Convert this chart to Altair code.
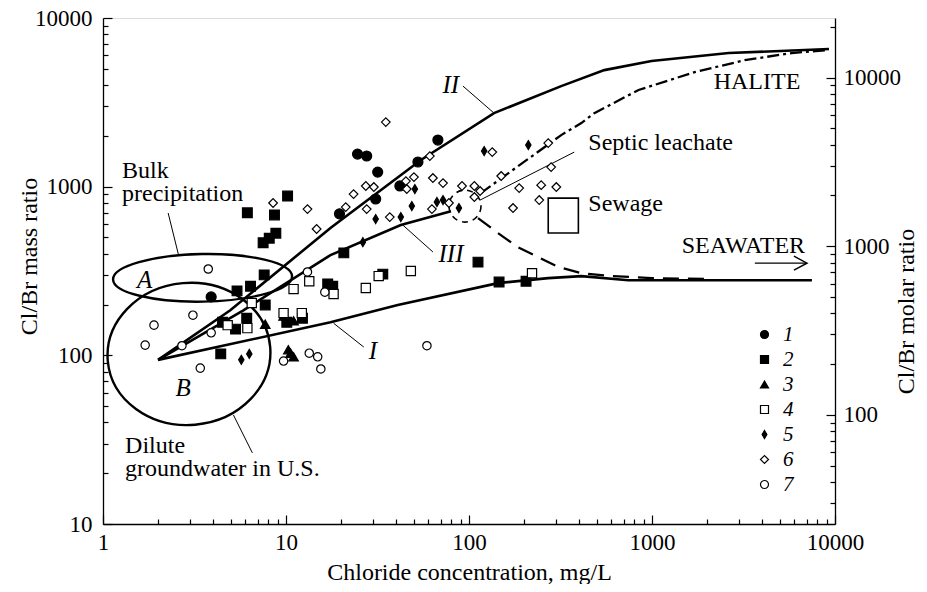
import altair as alt
import pandas as pd

FONT = "Liberation Serif"
K = 79.904 / 35.453  # Cl/Br molar ratio = mass ratio * K

# ---------------- measured samples: chloride (mg/L), Cl/Br mass ratio ----------------
g1_cl = [3.9, 19.6, 24.6, 27.6, 31.7, 30.9, 41.9, 52.6, 67.6]
g1_r = [222, 690, 1560, 1520, 1220, 845, 1010, 1400, 1890]
g2_cl = [6.15, 10.2, 8.65, 8.8, 8.1, 7.5, 7.6, 20.7, 6.4, 5.4, 16.9, 18.0, 7.7, 6.1, 4.5,
         5.3, 4.4, 10.1, 12.3, 33.8, 112, 146, 205]
g2_r = [700, 880, 680, 530, 495, 465, 300, 405, 257, 241, 265, 257, 199, 166, 157,
        143, 102, 157, 166, 303, 357, 272, 275]
g3_cl = [7.7, 9.7, 11.0, 10.3, 11.0, 10.6]
g3_r = [153, 171, 160, 108, 98, 103]
g4_cl = [6.5, 4.8, 6.15, 9.7, 12.2, 11.0, 13.4, 18.2, 27.3, 32.1, 48.1, 221]
g4_r = [204, 151, 145, 178, 178, 247, 275, 231, 251, 295, 316, 307]
g5_cl = [30.9, 42.4, 48.7, 50.6, 66.8, 72.1, 88.1, 121, 211, 26.3, 5.7, 6.3]
g5_r = [643, 660, 767, 968, 811, 833, 747, 1626, 1765, 469, 94, 102]
g6_cl = [35.1, 61.1, 27.3, 30.2, 23.4, 21.2, 27.6, 36.9, 45.2, 50.0, 45.7, 63.5, 72.1, 62.7,
         77.7, 91.6, 107, 115, 107, 134, 150, 188, 174, 248, 300, 242, 271, 281, 8.5, 13.1, 14.7]
g6_r = [2415, 1518, 1009, 995, 904, 757, 736, 660, 1079, 1140, 968, 1125, 1050, 736,
        800, 1009, 1009, 942, 868, 1603, 1156, 981, 747, 1021, 995, 833, 1813, 1306, 800, 736, 561]
g7_cl = [3.76, 13.1, 16.3, 3.1, 1.9, 1.7, 2.7, 3.9, 3.4, 9.7, 13.4, 14.9, 15.5, 58.9]
g7_r = [325, 312, 237, 173, 151, 115, 114, 136, 84, 92.5, 103, 98, 83, 114]

groups = ["1", "2", "3", "4", "5", "6", "7"]
group_fill = ["black", "black", "black", "white", "black", "white", "white"]
group_stroke = ["black"] * 7
TALL_DIAMOND = "M0,-1L0.6,0L0,1L-0.6,0Z"
group_shape = ["circle", "square", "triangle-up", "square", TALL_DIAMOND, "diamond", "circle"]
group_size = [100, 70, 140, 72, 150, 100, 80]

# ---------------- mixing / evaporation curves ----------------
c1_cl = [2.0, 17.5, 40.8, 144, 271, 411, 743, 7480]          # I
c1_r = [94, 157, 199, 268, 287, 295, 279, 279]
c2_cl = [2.0, 4.96, 17.5, 54.6, 137, 319, 549, 994, 2624, 9270]  # II
c2_r = [94, 185, 569, 1439, 2729, 3945, 4909, 5555, 6198, 6546]
c3_cl = [2.0, 5.85, 17.5, 42.4, 79.7]                         # III
c3_r = [94, 185, 393, 592, 716]
dash_cl = [112, 144, 185, 227, 307, 411, 600, 994, 2118]
dash_r = [651, 531, 438, 393, 334, 307, 295, 287, 283]
dd_cl = [116, 319, 411, 484, 844, 1710, 3215, 5807, 9270]
dd_r = [916, 2022, 2383, 2729, 3741, 4775, 5624, 6198, 6457]

# ---------------- annotations ----------------
txt_s = ["Bulk", "precipitation", "Dilute", "groundwater in U.S.", "Septic leachate",
         "Sewage", "HALITE", "SEAWATER"]
txt_x = [1.27, 1.27, 1.32, 1.32, 449, 449, 2173, 1452]
txt_y = [1125, 822, 26.4, 19.3, 1648, 720, 3790, 404]
ital_s = ["A", "B", "I", "II", "III"]
ital_x = [1.69, 2.74, 29.8, 79.6, 79.7]
ital_y = [279, 64, 106, 4000, 398]
lead_x1 = [2.27, 5.16, 18.2, 92.7, 43.5, 115]
lead_y1 = [698, 44.3, 155, 3947, 592, 833]
lead_x2 = [2.58, 6.55, 26.6, 137, 63.5, 376]
lead_y2 = [398, 26.4, 112, 2730, 410, 1603]
arrow_x1, arrow_x2, arrow_y = [3648], [7025], [352]
sewage_x1, sewage_x2, sewage_y1, sewage_y2 = [271], [396], [531], [855]
# outlines: centre (Cl, ratio), half-width px, aspect, tilt
ellA_x, ellA_y, ellA_halfw, ellA_aspect, ellA_angle = [3.50], [288], 89.5, 0.266, 359
ellB_x, ellB_y, ellB_halfw, ellB_aspect, ellB_angle = [2.95], [102], 81.5, 0.872, 355
ring_x, ring_y = [95.1], [767]

# ---------------- axis tick values ----------------
x_major = [1, 10, 100, 1000, 10000]
x_minor = [m * 10 ** e for e in range(4) for m in range(2, 10)]
y_major = [10, 100, 1000, 10000]
y_minor = [m * 10 ** e for e in range(1, 4) for m in range(2, 10)]
molar_major = [100, 1000, 10000]
molar_minor = [m * 10 ** e for e in range(1, 4) for m in range(2, 10) if m * 10 ** e > 23] + [20000]

# ---------------- build ----------------
xs = alt.Scale(type="log", domain=[1, 10000], nice=False)
ys = alt.Scale(type="log", domain=[10, 10000], nice=False)

size_keys = ["s" + g for g in groups]
rows = []
for g, xl, yl in zip(groups, [g1_cl, g2_cl, g3_cl, g4_cl, g5_cl, g6_cl, g7_cl],
                     [g1_r, g2_r, g3_r, g4_r, g5_r, g6_r, g7_r]):
    for a, b in zip(xl, yl):
        rows.append({"cl": a, "r": b, "g": g, "gsize": "s" + g})
pts = pd.DataFrame(rows)


def curve(xl, yl):
    return pd.DataFrame({"cl": xl, "r": yl, "i": range(len(xl))})


def X(f="cl"):
    return alt.X(f + ":Q", scale=xs, axis=None)


def Y(f="r"):
    return alt.Y(f + ":Q", scale=ys, axis=None)


def ell_path(a):
    k = 0.5523
    r = a
    return (f"M-1,0C-1,{-k*r:.4f} {-k:.4f},{-r:.4f} 0,{-r:.4f}"
            f"C{k:.4f},{-r:.4f} 1,{-k*r:.4f} 1,0"
            f"C1,{k*r:.4f} {k:.4f},{r:.4f} 0,{r:.4f}"
            f"C{-k:.4f},{r:.4f} -1,{k*r:.4f} -1,0Z")


def ellipse(cx, cy, halfw, aspect, ang):
    return alt.Chart(pd.DataFrame({"cl": cx, "r": cy})).mark_point(
        filled=False, stroke="black", strokeWidth=2.4, opacity=1,
        shape=ell_path(aspect), size=(2 * halfw) ** 2, angle=ang).encode(x=X(), y=Y())


ellA = ellipse(ellA_x, ellA_y, ellA_halfw, ellA_aspect, ellA_angle)
ellB = ellipse(ellB_x, ellB_y, ellB_halfw, ellB_aspect, ellB_angle)

ring = alt.Chart(pd.DataFrame({"cl": ring_x, "r": ring_y})).mark_point(
    filled=False, stroke="black", strokeWidth=1.6, opacity=1, size=1024, shape="circle",
    strokeDash=[6, 5]).encode(x=X(), y=Y())

solid = [
    alt.Chart(curve(a, b)).mark_line(color="black", strokeWidth=2.6).encode(x=X(), y=Y(), order="i:Q")
    for a, b in [(c1_cl, c1_r), (c2_cl, c2_r), (c3_cl, c3_r)]
]
dashed = alt.Chart(curve(dash_cl, dash_r)).mark_line(color="black", strokeWidth=2.3, strokeDash=[16, 9]).encode(
    x=X(), y=Y(), order="i:Q")
dashdot = alt.Chart(curve(dd_cl, dd_r)).mark_line(color="black", strokeWidth=2.3, strokeDash=[12, 4, 3, 4]).encode(
    x=X(), y=Y(), order="i:Q")

leaders = alt.Chart(pd.DataFrame({"cl": lead_x1, "r": lead_y1, "cl2": lead_x2, "r2": lead_y2})).mark_rule(
    color="black", strokeWidth=1).encode(x=X(), y=Y(), x2="cl2:Q", y2="r2:Q")

arrow = alt.Chart(pd.DataFrame({"cl": arrow_x1, "cl2": arrow_x2, "r": arrow_y})).mark_rule(
    color="black", strokeWidth=1.3).encode(x=X(), x2="cl2:Q", y=Y())
arrowhead = alt.Chart(pd.DataFrame({"cl": arrow_x2, "r": arrow_y})).mark_point(
    shape="M-1,-0.54L0,0L-1,0.54", size=676, filled=False, stroke="black", strokeWidth=1.5,
    opacity=1).encode(x=X(), y=Y())

sewage = alt.Chart(pd.DataFrame({"cl": sewage_x1, "cl2": sewage_x2, "r": sewage_y1, "r2": sewage_y2})).mark_rect(
    fillOpacity=0, stroke="black", strokeWidth=1.6).encode(x=X(), x2="cl2:Q", y=Y(), y2="r2:Q")

legend = alt.Legend(orient="none", legendX=651, legendY=306, title=None, labelFont=FONT,
                    labelFontSize=21, labelFontStyle="italic", labelColor="black",
                    symbolSize=64, symbolStrokeWidth=1.2,
                    rowPadding=3, labelOffset=8, padding=0)
points = alt.Chart(pts).mark_point(opacity=1, strokeWidth=1.2).encode(
    x=X(), y=Y(),
    shape=alt.Shape("g:N", scale=alt.Scale(domain=groups, range=group_shape), legend=legend),
    fill=alt.Fill("g:N", scale=alt.Scale(domain=groups, range=group_fill), legend=legend),
    stroke=alt.Stroke("g:N", scale=alt.Scale(domain=groups, range=group_stroke), legend=legend),
    size=alt.Size("gsize:N", scale=alt.Scale(domain=size_keys, range=group_size), legend=None))

texts = alt.Chart(pd.DataFrame({"cl": txt_x, "r": txt_y, "t": txt_s})).mark_text(
    font=FONT, fontSize=24, align="left", baseline="alphabetic", color="black").encode(
    x=X(), y=Y(), text="t:N")
italics = alt.Chart(pd.DataFrame({"cl": ital_x, "r": ital_y, "t": ital_s})).mark_text(
    font=FONT, fontSize=25, fontStyle="italic", align="center", baseline="middle", color="black").encode(
    x=X(), y=Y(), text="t:N")

# ---------------- axes (labels + inward major/minor ticks) ----------------
one = pd.DataFrame({"x": [10.0], "y": [100.0]})
common = dict(grid=False, labelFont=FONT, labelColor="black", titleFont=FONT, titleColor="black",
              titleFontWeight="normal", domainColor="black", tickColor="black")


def xax(**kw):
    return alt.Chart(one).mark_point(opacity=0).encode(
        x=alt.X("x:Q", scale=xs, axis=alt.Axis(orient="bottom", **common, **kw)))


def yax(**kw):
    return alt.Chart(one).mark_point(opacity=0).encode(
        y=alt.Y("y:Q", scale=ys, axis=alt.Axis(**common, **kw)))


tick_opts = dict(labels=False, domain=False, ticks=True, tickWidth=1.2, title=None)

axes = [
    xax(values=x_major, format="d", ticks=False, domain=True, domainWidth=1.3, labelFontSize=23,
        labelPadding=7, labelFlush=False, title="Chloride concentration, mg/L", titleFontSize=24,
        titleBaseline="alphabetic", titleY=55),
    xax(values=x_major, tickSize=9, offset=-9, **tick_opts),
    xax(values=x_minor, tickSize=5, offset=-5, **tick_opts),
    yax(orient="left", values=y_major, format="d", ticks=False, domain=True, domainWidth=1.3,
        labelFontSize=23, labelPadding=11, title="Cl/Br mass ratio", titleFontSize=24,
        titleAngle=270, titleBaseline="alphabetic", titleAlign="center", titleX=-67, titleY=238),
    yax(orient="left", values=y_major, tickSize=9, offset=-9, **tick_opts),
    yax(orient="left", values=y_minor, tickSize=5, offset=-5, **tick_opts),
    yax(orient="right", values=[m / K for m in molar_major],
        labelExpr=f"format(round(datum.value*{K:.6f}), 'd')", ticks=False, domain=True,
        domainWidth=1.3, labelFontSize=23, labelPadding=8, title="Cl/Br molar ratio",
        titleFontSize=24, titleAngle=270, titleBaseline="alphabetic", titleAlign="center",
        titleX=78, titleY=293),
    yax(orient="right", values=[m / K for m in molar_major], tickSize=9, offset=-9, **tick_opts),
    yax(orient="right", values=[m / K for m in molar_minor], tickSize=5, offset=-5, **tick_opts),
]

chart = alt.layer(
    *axes, ellA, ellB, ring, *solid, dashed, dashdot, leaders, arrow, arrowhead, sewage,
    points, texts, italics
).resolve_axis(x="independent", y="independent").properties(
    width=732, height=506,
    autosize=alt.AutoSizeParams(type="none"),
    padding={"left": 95, "top": 10, "right": 84, "bottom": 60},
).configure_view(stroke="black", strokeWidth=1.3).configure(background="white")

chart.save("out.html", embed_options={"renderer": "svg", "actions": False})
